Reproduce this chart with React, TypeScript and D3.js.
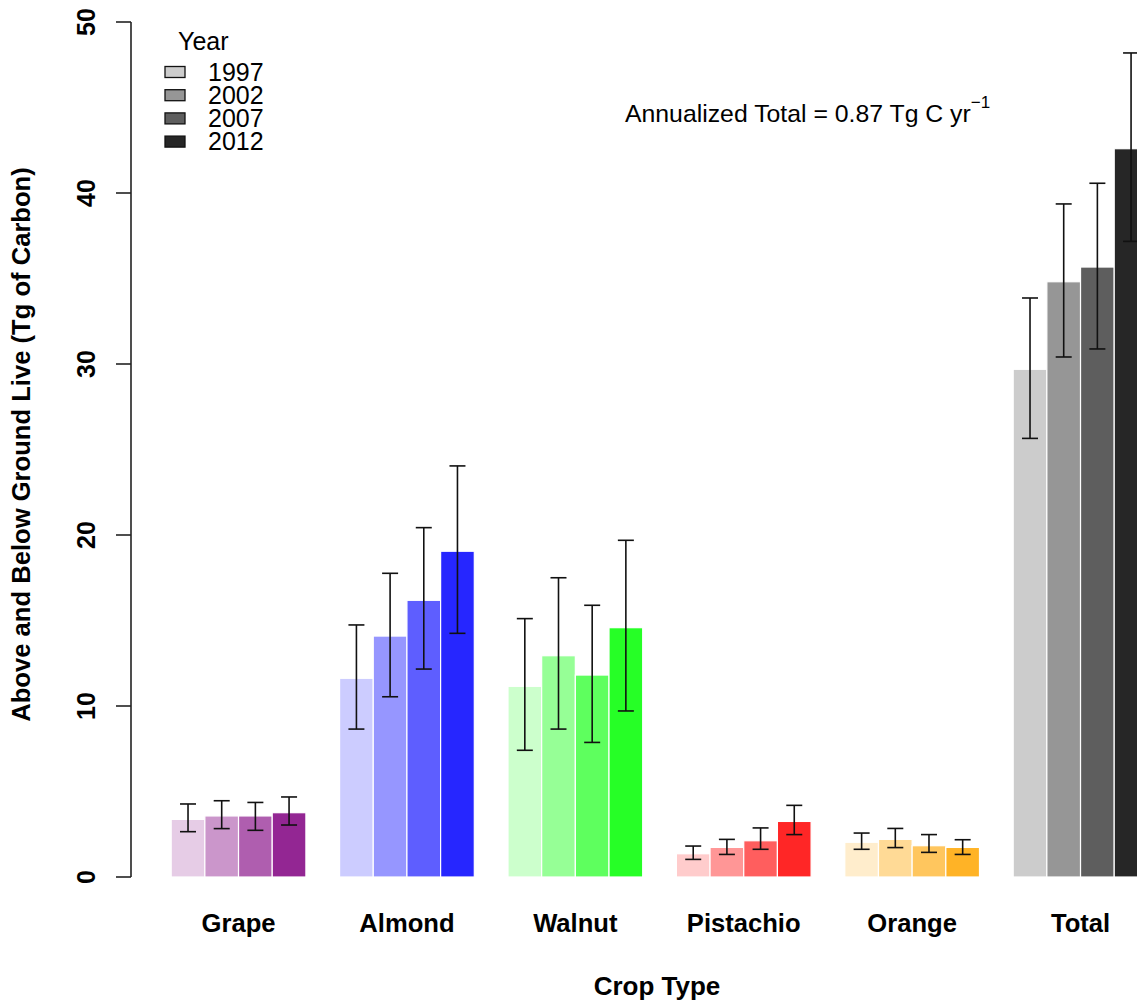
import * as d3 from "d3";

const crops = ["Grape", "Almond", "Walnut", "Pistachio", "Orange", "Total"];
const years = ["1997", "2002", "2007", "2012"];

// bar heights (Tg C) per crop, one value per year
const grape = [3.37, 3.57, 3.57, 3.76];
const almond = [11.62, 14.09, 16.18, 19.05];
const walnut = [11.15, 12.94, 11.81, 14.58];
const pistachio = [1.36, 1.73, 2.12, 3.25];
const orange = [2.03, 2.2, 1.83, 1.73];
const total = [29.69, 34.81, 35.67, 42.59];

// error bar limits
const lowers = [
  [2.65, 2.83, 2.73, 3.04],
  [8.65, 10.54, 12.16, 14.25],
  [7.41, 8.65, 7.87, 9.71],
  [1.03, 1.32, 1.62, 2.48],
  [1.62, 1.72, 1.44, 1.32],
  [25.65, 30.41, 30.88, 37.17],
];
const uppers = [
  [4.27, 4.46, 4.36, 4.68],
  [14.74, 17.76, 20.43, 24.04],
  [15.11, 17.5, 15.89, 19.69],
  [1.81, 2.2, 2.87, 4.19],
  [2.57, 2.84, 2.48, 2.18],
  [33.86, 39.36, 40.57, 48.19],
];

const values = [grape, almond, walnut, pistachio, orange, total];
const baseColors = ["#800080", "#0000ff", "#00ff00", "#ff0000", "#ffa500", "#000000"];
const alphas = [0.2, 0.41, 0.63, 0.85];
const yTicks = [0, 10, 20, 30, 40, 50];

const W = 1137;
const H = 1003;
const FONT = "'Liberation Sans', Arial, sans-serif";

function tint(base: string, a: number) {
  const c = d3.rgb(base);
  const mix = (v: number) => Math.round(255 - a * (255 - v));
  return d3.rgb(mix(c.r), mix(c.g), mix(c.b)).formatHex();
}

export default function App() {
  const unit = 33.68;
  const x0 = 137.5;
  const x = d3.scaleBand<string>()
    .domain(crops)
    .range([x0, x0 + 31 * unit])
    .paddingInner(0.2)
    .paddingOuter(0.2);
  const xi = d3.scaleBand<string>().domain(years).range([0, x.bandwidth()]);
  const y = d3.scaleLinear().domain([0, 50]).range([877, 22]);
  const axisX = 131;
  const cap = 8;

  return (
    <svg width={W} height={H} style={{ position: "absolute", left: 0, top: 0, background: "white" }} fontFamily={FONT}>
      {/* bars */}
      {crops.map((crop, ci) => (
        <g key={crop} transform={`translate(${x(crop)},0)`}>
          {years.map((yr, yi) => (
            <rect
              key={yr}
              x={xi(yr)}
              y={y(values[ci][yi])}
              width={xi.bandwidth()}
              height={y(0) - y(values[ci][yi])}
              fill={tint(baseColors[ci], alphas[yi])}
              stroke="white"
              strokeWidth={1.2}
            />
          ))}
        </g>
      ))}
      {/* error bars */}
      {crops.map((crop, ci) => (
        <g key={crop} transform={`translate(${x(crop)},0)`} stroke="#111" strokeWidth={1.6}>
          {years.map((yr, yi) => {
            const cx = xi(yr)! + xi.bandwidth() / 2;
            return (
              <g key={yr}>
                <line x1={cx} x2={cx} y1={y(lowers[ci][yi])} y2={y(uppers[ci][yi])} />
                <line x1={cx - cap} x2={cx + cap} y1={y(lowers[ci][yi])} y2={y(lowers[ci][yi])} />
                <line x1={cx - cap} x2={cx + cap} y1={y(uppers[ci][yi])} y2={y(uppers[ci][yi])} />
              </g>
            );
          })}
        </g>
      ))}
      {/* y axis */}
      <line x1={axisX} x2={axisX} y1={y(0)} y2={y(50)} stroke="#222" strokeWidth={1.6} />
      {yTicks.map((t) => (
        <g key={t}>
          <line x1={axisX - 15} x2={axisX} y1={y(t)} y2={y(t)} stroke="#222" strokeWidth={1.6} />
          <text
            transform={`translate(95,${y(t)}) rotate(-90)`}
            textAnchor="middle"
            fontSize={25}
            fontWeight="bold"
          >
            {t}
          </text>
        </g>
      ))}
      <text
        transform={`translate(30,444.5) rotate(-90)`}
        textAnchor="middle"
        fontSize={25.6}
        fontWeight="bold"
      >
        Above and Below Ground Live (Tg of Carbon)
      </text>
      {/* x labels */}
      {crops.map((crop) => (
        <text
          key={crop}
          x={x(crop)! + x.bandwidth() / 2}
          y={932}
          textAnchor="middle"
          fontSize={25.6}
          fontWeight="bold"
        >
          {crop}
        </text>
      ))}
      <text x={657} y={995} textAnchor="middle" fontSize={26} fontWeight="bold">
        Crop Type
      </text>
      {/* legend */}
      <text x={178} y={50} fontSize={25}>Year</text>
      {years.map((yr, yi) => {
        const cy = 72 + yi * 23.2;
        return (
          <g key={yr}>
            <rect x={165} y={cy - 5.5} width={20} height={11} fill={tint("#000000", alphas[yi])} stroke="#111" strokeWidth={1.3} />
            <text x={208} y={cy + 8.5} fontSize={25}>{yr}</text>
          </g>
        );
      })}
      {/* annotation */}
      <text x={625} y={122} fontSize={24.8}>
        Annualized Total = 0.87 Tg C yr
        <tspan fontSize={17} dy={-14}>−1</tspan>
      </text>
    </svg>
  );
}
